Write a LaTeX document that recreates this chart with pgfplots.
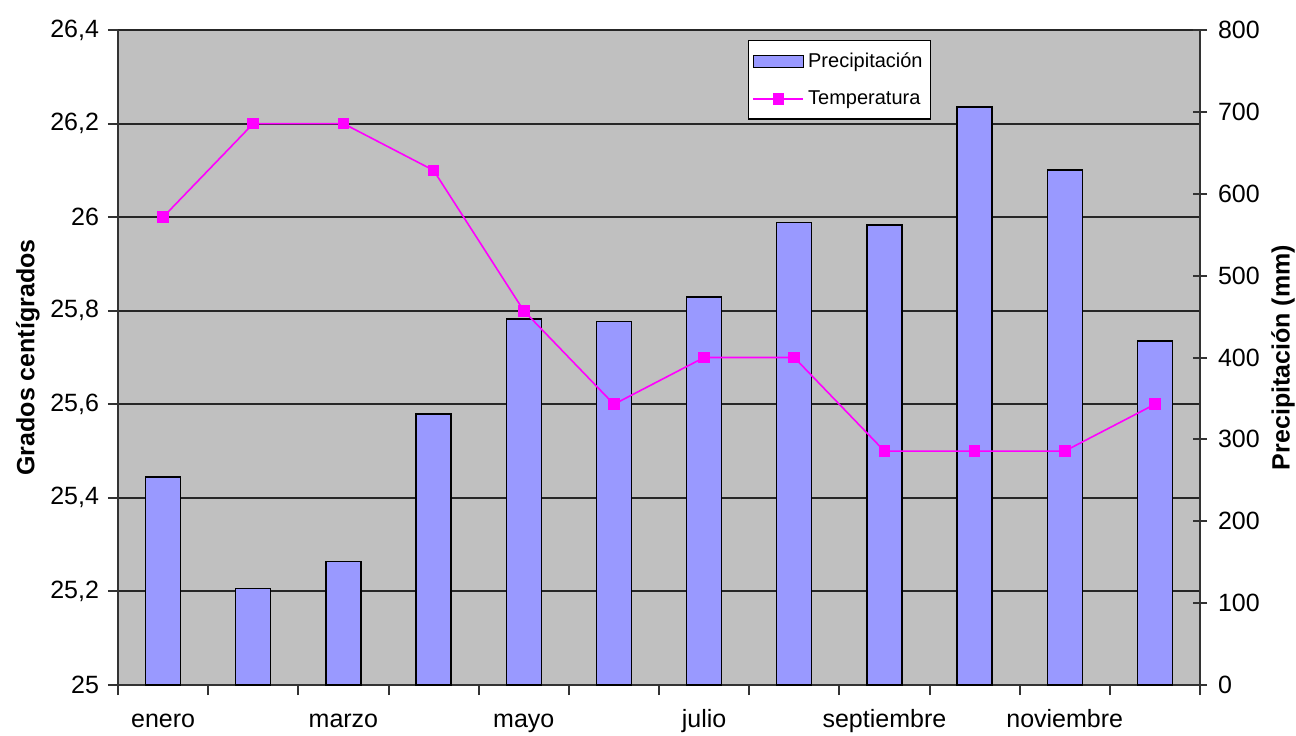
\documentclass[border=0pt]{standalone}
\usepackage{pgfplots}
\pgfplotsset{compat=1.18}
\usepackage{pgfplotstable}
\usepackage{fontspec}
\setmainfont{Liberation Sans}
\definecolor{bg}{HTML}{C0C0C0}
\definecolor{barc}{HTML}{9999FF}
\definecolor{mag}{HTML}{FF00FF}

\pgfplotsset{
  lineleg/.style={legend image code/.code={\draw[##1, mark repeat=2, mark phase=2] plot coordinates {(0pt,0pt) (12.5pt,0pt) (25pt,0pt)};}},
  barleg/.style={legend image code/.code={\draw[fill=barc, draw=black, line width=0.7pt] (0pt,-3pt) rectangle (25pt,3pt);}},
}

\pgfplotstableread{
m prec temp
1 254 26.0
2 118 26.2
3 151 26.2
4 331 26.1
5 447 25.8
6 444 25.6
7 474 25.7
8 565 25.7
9 562 25.5
10 706 25.5
11 629 25.5
12 420 25.6
}\data

\begin{document}
\begin{tikzpicture}
\useasboundingbox (-59pt,-25pt) rectangle (589pt,342.5pt);
\pgfplotsset{
  base/.style={scale only axis, width=541pt, height=327.5pt,
    xmin=0.5, xmax=12.5, at={(0,0)}, anchor=south west,
    /pgf/number format/assume math mode=true,
    /pgf/number format/use comma,
    tick label style={font=\fontsize{12.5}{15}\selectfont},
    label style={font=\bfseries\fontsize{12.5}{15}\selectfont},
  }
}
% Axis 1: background, grid, left axis, x axis
\begin{axis}[base, ymin=25, ymax=26.4,
  ytick={25,25.2,25.4,25.6,25.8,26,26.2,26.4},
  axis background/.style={fill=bg},
  ymajorgrids, grid style={black!85, line width=1pt},
  axis x line*=bottom, axis y line*=left,
  axis line style={line width=1pt, black!80},
  xtick={1,...,12},
  xticklabels={enero,,marzo,,mayo,,julio,,septiembre,,noviembre,},
  major x tick style={draw=none},
  minor xtick={0.5,1.5,...,12.5},
  tick align=outside,
  minor tick length=5pt, major tick length=5pt,
  minor x tick style={black!80, line width=1pt},
  major y tick style={black!80, line width=1pt},
  xticklabel style={anchor=base, yshift=-16pt},
  yticklabel style={xshift=-1pt},
  ylabel={Grados centígrados},
  ylabel style={at={(axis description cs:-0.0832,0.5)}, anchor=center},
]
\end{axis}
% Axis 2: bars on the right scale
\begin{axis}[base, ymin=0, ymax=800, ytick={0,100,...,800},
  axis y line*=right, axis x line=none,
  axis line style={line width=1pt, black!80},
  tick align=center, major tick length=7pt,
  major y tick style={black!80, line width=1pt},
  yticklabel style={xshift=2pt},
  ybar, bar width=17.5pt,
  ylabel={Precipitación (mm)},
  ylabel style={at={(axis description cs:1.0767,0.5)}, anchor=center, rotate=0},
]
\addplot[fill=barc, draw=black, line width=0.7pt] table[x=m,y=prec]{\data};
\end{axis}
% Axis 3: temperature line on the left scale
\begin{axis}[base, ymin=25, ymax=26.4, hide axis,
  legend style={at={(axis description cs:0.582,0.985)}, anchor=north west,
    draw=black, line width=0.8pt, fill=white,
    font=\fontsize{10}{12}\selectfont, row sep=6pt,
    inner xsep=2pt, inner ysep=4pt},
  legend cell align=left,
]
\addlegendimage{barleg}
\addlegendentry{Precipitación}
\addplot[mag, line width=0.8pt, mark=square*, mark size=2.5pt, lineleg]
  table[x=m,y=temp]{\data};
\addlegendentry{Temperatura}
\end{axis}
\end{tikzpicture}
\end{document}
